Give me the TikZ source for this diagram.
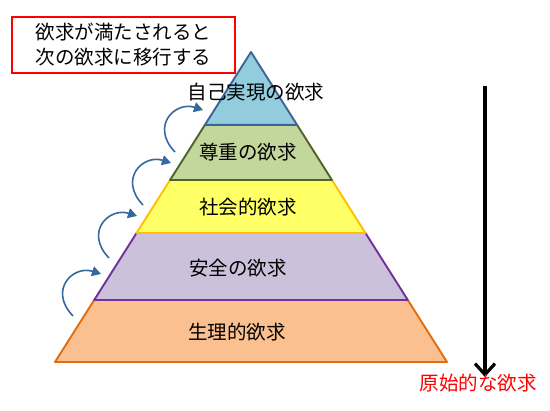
\documentclass[tikz,border=0pt]{standalone}
\usepackage{fontspec}
\setmainfont{Noto Sans CJK JP}
\usetikzlibrary{calc,arrows.meta}
\definecolor{bluefill}{HTML}{93CDDD}
\definecolor{blueline}{HTML}{3C6496}
\definecolor{greenfill}{HTML}{C3D69B}
\definecolor{greenline}{HTML}{4F6228}
\definecolor{yellowfill}{HTML}{FFFF66}
\definecolor{yellowline}{HTML}{FFC000}
\definecolor{purplefill}{HTML}{CCC1DA}
\definecolor{purpleline}{HTML}{7030A0}
\definecolor{orangefill}{HTML}{FAC090}
\definecolor{orangeline}{HTML}{E46C0A}
\definecolor{curlblue}{HTML}{35689F}

\begin{document}
\begin{tikzpicture}[x=1pt,y=1pt,
  layer/.style={line width=1.9pt, line join=round},
  label/.style={font=\fontsize{19.5}{25}\selectfont, inner sep=0pt},
  curl/.style={draw=curlblue, line width=1.6pt, -{Triangle[length=9pt,width=10pt]}}]
\useasboundingbox (0,0) rectangle (550,411);

% pyramid corners
\coordinate (apex) at (251,359);
\coordinate (bl) at (55,49);
\coordinate (br) at (447,49);
\foreach \n/\f in {1/0.235,2/0.413,3/0.584,4/0.8}{
  \coordinate (l\n) at ($(apex)!\f!(bl)$);
  \coordinate (r\n) at ($(apex)!\f!(br)$);
}

% layers, bottom first
\filldraw[layer, fill=orangefill, draw=orangeline] (l4) -- (r4) -- (br) -- (bl) -- cycle;
\filldraw[layer, fill=purplefill, draw=purpleline] (l3) -- (r3) -- (r4) -- (l4) -- cycle;
\filldraw[layer, fill=yellowfill, draw=yellowline] (l2) -- (r2) -- (r3) -- (l3) -- cycle;
\filldraw[layer, fill=greenfill, draw=greenline] (l1) -- (r1) -- (r2) -- (l2) -- cycle;
\filldraw[layer, fill=bluefill, draw=blueline] (apex) -- (r1) -- (l1) -- cycle;

\node[label] (self) at (256,319) {自己実現の欲求};
\node[label] (esteem) at (248,259) {尊重の欲求};
\node[label] (social) at (248,204) {社会的欲求};
\node[label] (safety) at (238,143) {安全の欲求};
\node[label] (physio) at (237,79) {生理的欲求};

% note box
\node[label, draw=red, line width=1.1pt, minimum width=223pt, minimum height=56pt,
  align=center] (note) at (123.5,366) {欲求が満たされると\\次の欲求に移行する};

% steps up
\foreach \i/\sx/\sy in {1/175/259,2/143/206,3/109/153,4/73/95}{
  \coordinate (s\i) at (\sx,\sy);
  \coordinate (t\i) at (\sx+28,\sy+42);
  \draw[curl] (s\i) .. controls ($(s\i)+(-25,26)$) and ($(t\i)+(-28,9)$) .. (t\i);
}

% down arrow
\coordinate (dtop) at (485,325);
\coordinate (dbot) at (485,34);
\draw[line width=3.2pt, -{Straight Barb[length=11pt,width=20pt]}] (dtop) -- (dbot);
\node[label, red] (basic) at (478,28) {原始的な欲求};

\end{tikzpicture}
\end{document}
